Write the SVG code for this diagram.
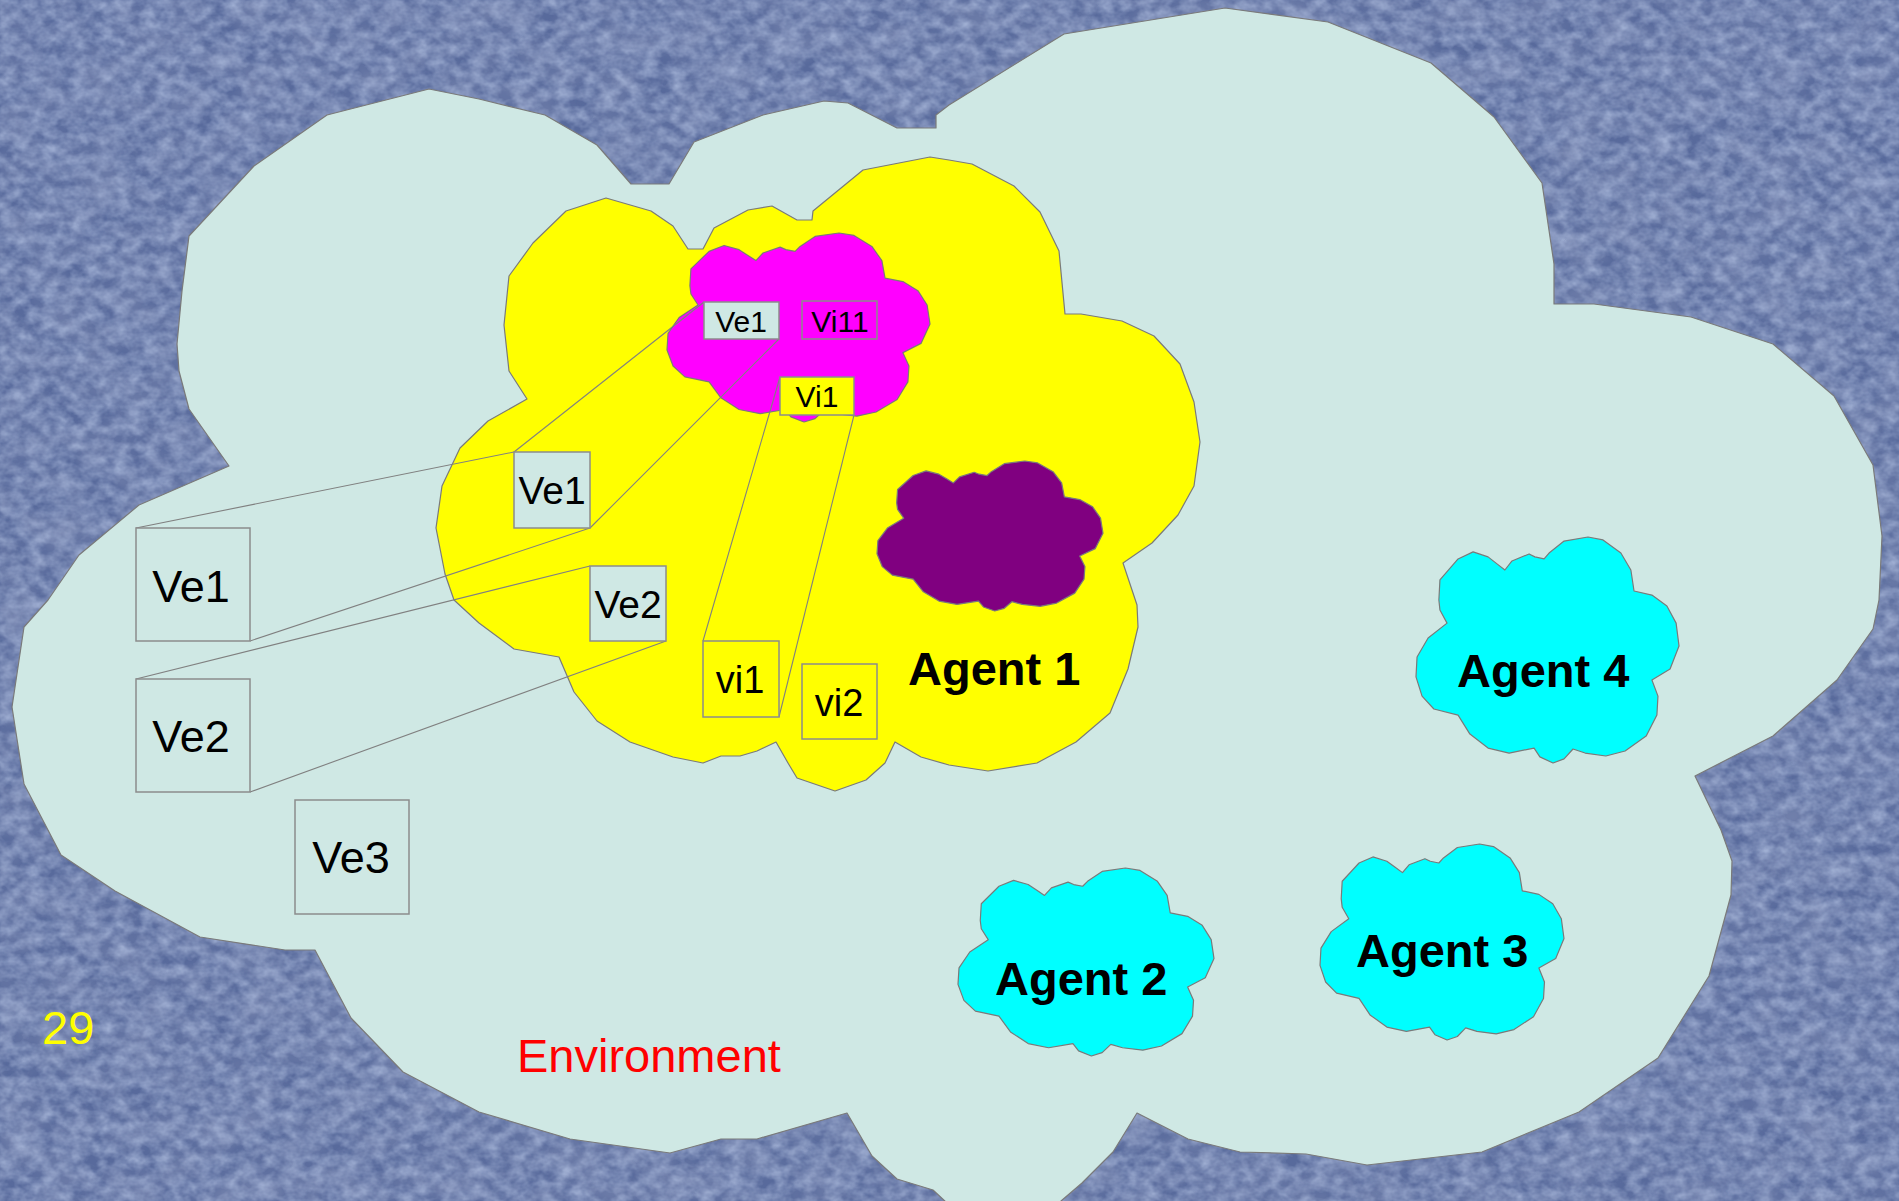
<svg xmlns="http://www.w3.org/2000/svg" xmlns:xlink="http://www.w3.org/1999/xlink" width="1899" height="1201" viewBox="0 0 1899 1201">
  <defs>
    <style>
      .outline { stroke: #7a7a7a; stroke-width: 1.2; stroke-linejoin: round; }
      .env { fill: #cfe8e4; }
      .agent1 { fill: #ffff00; }
      .vi { fill: #ff00ff; }
      .mind { fill: #800080; }
      .agent { fill: #00ffff; }
      .box { stroke: #8c8c8c; stroke-width: 1.5; }
      .box-env { fill: #cfe8e4; }
      .box-yel { fill: #ffff00; }
      .box-mag { fill: #ff00ff; }
      .link { stroke: #808080; stroke-width: 1.1; fill: none; }
      text { font-family: "Liberation Sans", Arial, sans-serif; fill: #000; }
      .lbl { text-anchor: middle; }
      .agent-name { font-weight: bold; font-size: 47px; }
    </style>
    <!-- fine-grained denim-like background -->
    <filter id="denim" x="0" y="0" width="100%" height="100%" filterUnits="userSpaceOnUse">
      <feTurbulence type="fractalNoise" baseFrequency="0.07 0.09" numOctaves="3" seed="7" result="noise"/>
      <feColorMatrix in="noise" type="matrix" values="0 0 0 0 0.47  0 0 0 0 0.56  0 0 0 0 0.78  1.1 0 0 0 -0.3"/>
      <feGaussianBlur stdDeviation="0.7"/>
    </filter>
    <filter id="denimDark" x="0" y="0" width="100%" height="100%" filterUnits="userSpaceOnUse">
      <feTurbulence type="fractalNoise" baseFrequency="0.025 0.035" numOctaves="3" seed="21" result="noise"/>
      <feColorMatrix in="noise" type="matrix" values="0 0 0 0 0.24  0 0 0 0 0.29  0 0 0 0 0.48  1.0 0 0 0 -0.3"/>
      <feGaussianBlur stdDeviation="1.2"/>
    </filter>
    <!-- generic cloud outline in a 100 x 100 box -->
    <path id="cloud" vector-effect="non-scaling-stroke" d="M9.1,19 L16,9.7 L21.7,6.6 L27.4,8.8 L30.8,11.9 L33.8,14.6 L36.5,10.6 L43,7.5 L45.2,8.8 L48.7,9.7 L50.6,7.1 L56.3,1.8 L65.4,0 L71.1,1.3 L77.9,7.1 L81.7,14.6 L82.9,23.9 L89.7,25.7 L95.4,30.5 L98.9,38.1 L100,48.2 L96.6,58.4 L89.7,63.3 L92,70.4 L91.6,78.8 L87.5,88.1 L79.5,94.7 L72.2,96.9 L64.3,95.6 L59.7,93.8 L56.3,98.2 L52.1,100 L47.1,97.3 L44.9,93.4 L35.4,95.6 L27.4,93.4 L20.5,87.2 L16,78.8 L6.8,76.1 L2.3,70.4 L0,61.9 L0.4,53.1 L4.6,44.7 L11.8,38.1 L9.1,32.3 L8.7,27.9 Z"/>
  </defs>

  <!-- background -->
  <rect x="0" y="0" width="1899" height="1201" fill="#586a9c"/>
  <rect x="0" y="0" width="1899" height="1201" filter="url(#denimDark)"/>
  <rect x="0" y="0" width="1899" height="1201" filter="url(#denim)"/>

  <!-- environment cloud -->
  <g id="environment">
    <polygon class="env outline" points="229,466 189,409 179,371 177,344 182,291 189,236 254,166 327,115 429,89 479,99 545,115 597,145 631,184 669,184 694,142 763,115 824,101 848,103 897,128 936,128 936,115 949,105 1064,34 1225,8 1328,22 1431,63 1494,117 1542,183 1554,264 1554,304 1594,304 1691,317 1773,344 1834,396 1873,465 1882,536 1879,600 1873,629 1837,680 1773,736 1695,776 1721,830 1732,861 1731,895 1709,976 1658,1058 1579,1112 1482,1152 1367,1165 1306,1154 1240,1152 1188,1139 1137,1113 1113,1152 1082,1183 1061,1201 1050,1215 960,1215 933,1190 897,1179 872,1156 847,1113 757,1139 721,1139 670,1153 570,1139 479,1112 403,1072 351,1018 315,950 285,950 200,937 115,891 61,855 24,784 12,707 24,627 48,600 79,555 139,505"/>
    <text x="517" y="1072" font-size="47" style="fill:#ff0000">Environment</text>
  </g>

  <!-- agent 1 -->
  <g id="agent1">
    <polygon class="agent1 outline" points="606,198 651,211 673,226 688,249 703,249 714,228 748,210 772,206 797,220 812,220 813,211 863,170 930,157 949,160 972,164 1014,186 1040,212 1059,251 1065,314 1081,314 1122,321 1154,336 1180,364 1194,402 1200,442 1194,486 1178,515 1152,543 1123,563 1137,605 1138,627 1128,669 1110,713 1076,742 1037,763 988,771 949,765 921,757 895,742 885,763 866,780 835,791 797,778 788,763 776,742 757,751 740,756 721,756 703,763 673,757 630,742 597,721 574,692 559,657 514,649 479,623 454,600 445,574 436,528 442,486 460,448 488,421 527,399 509,371 504,325 509,276 533,243 566,211"/>
    <text class="agent-name" x="908" y="685">Agent 1</text>
  </g>

  <!-- inner view cloud of agent 1 -->
  <g id="agent1-view">
    <use xlink:href="#cloud" href="#cloud" class="vi outline" transform="translate(667,233) scale(2.63,1.89)"/>
  </g>

  <!-- inner mind of agent 1 -->
  <g id="agent1-mind">
    <use xlink:href="#cloud" href="#cloud" class="mind outline" transform="translate(877,461) scale(2.26,1.5)"/>
  </g>

  <g id="agent2">
    <use xlink:href="#cloud" href="#cloud" class="agent outline" transform="translate(958,868) scale(2.56,1.88)"/>
    <text class="agent-name" x="995" y="995">Agent 2</text>
  </g>

  <g id="agent3">
    <use xlink:href="#cloud" href="#cloud" class="agent outline" transform="translate(1320,844) scale(2.44,1.96)"/>
    <text class="agent-name" x="1356" y="967">Agent 3</text>
  </g>

  <g id="agent4">
    <use xlink:href="#cloud" href="#cloud" class="agent outline" transform="translate(1416,537) scale(2.63,2.26)"/>
    <text class="agent-name" x="1457" y="687">Agent 4</text>
  </g>

  <!-- projection lines between corresponding variables -->
  <g id="connectors">
    <line class="link" x1="704" y1="302" x2="514" y2="452"/>
    <line class="link" x1="779" y1="339" x2="590" y2="528"/>
    <line class="link" x1="514" y1="452" x2="136" y2="528"/>
    <line class="link" x1="590" y1="528" x2="250" y2="641"/>
    <line class="link" x1="590" y1="566" x2="136" y2="679"/>
    <line class="link" x1="666" y1="641" x2="250" y2="792"/>
    <line class="link" x1="780" y1="377" x2="703" y2="641"/>
    <line class="link" x1="854" y1="415" x2="779" y2="717"/>
  </g>

  <!-- variables seen by agent 1 -->
  <g id="ve1-view">
    <rect class="box box-env" x="704" y="302" width="75" height="37"/>
    <text class="lbl" x="741" y="332" font-size="30">Ve1</text>
  </g>
  <g id="vi11-view">
    <rect class="box box-mag" x="802" y="301" width="75" height="38"/>
    <text class="lbl" x="840" y="332" font-size="30">Vi11</text>
  </g>
  <g id="vi1-view">
    <rect class="box box-yel" x="780" y="377" width="74" height="38"/>
    <text class="lbl" x="817" y="407" font-size="30">Vi1</text>
  </g>
  <g id="ve1-agent">
    <rect class="box box-env" x="514" y="452" width="76" height="76"/>
    <text class="lbl" x="552" y="504" font-size="39">Ve1</text>
  </g>
  <g id="ve2-agent">
    <rect class="box box-env" x="590" y="566" width="76" height="75"/>
    <text class="lbl" x="628" y="618" font-size="39">Ve2</text>
  </g>
  <g id="vi1-agent">
    <rect class="box box-yel" x="703" y="641" width="76" height="76"/>
    <text class="lbl" x="740" y="693" font-size="38">vi1</text>
  </g>
  <g id="vi2-agent">
    <rect class="box box-yel" x="802" y="664" width="75" height="75"/>
    <text class="lbl" x="839" y="716" font-size="38">vi2</text>
  </g>

  <!-- environment variables -->
  <g id="ve1-env">
    <rect class="box box-env" x="136" y="528" width="114" height="113"/>
    <text class="lbl" x="191" y="602" font-size="45">Ve1</text>
  </g>
  <g id="ve2-env">
    <rect class="box box-env" x="136" y="679" width="114" height="113"/>
    <text class="lbl" x="191" y="752" font-size="45">Ve2</text>
  </g>
  <g id="ve3-env">
    <rect class="box box-env" x="295" y="800" width="114" height="114"/>
    <text class="lbl" x="351" y="873" font-size="45">Ve3</text>
  </g>

  <text id="page-number" x="42" y="1044" font-size="47" style="fill:#ffff00">29</text>
</svg>
